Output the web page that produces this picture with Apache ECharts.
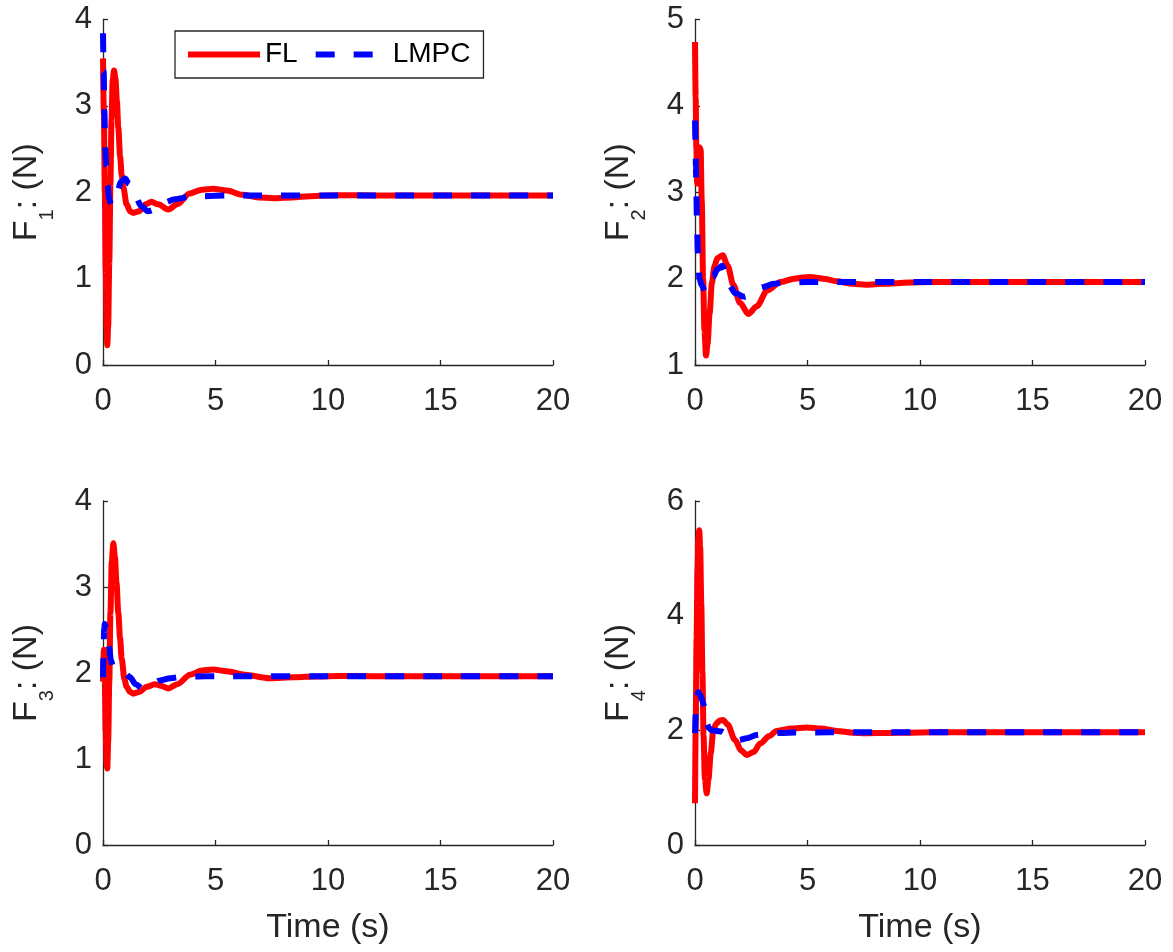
<!DOCTYPE html>
<html>
<head>
<meta charset="utf-8">
<title>Force inputs F1–F4: FL vs LMPC</title>
<script src="https://cdn.jsdelivr.net/npm/echarts@6/dist/echarts.min.js"></script>
<style>
  html, body { margin: 0; padding: 0; background: #fff; }
  #chart { width: 1173px; height: 952px; }
</style>
</head>
<body>
<div id="chart"></div>
<script>
// ---- data: time (s) and force (N) for each rotor input ----
const seriesNames = ['FL', 'LMPC'];

const f1FlT  = [0, 0.04, 0.08, 0.12, 0.16, 0.19, 0.23, 0.28, 0.33, 0.38, 0.43, 0.49, 0.55, 0.62, 0.68, 0.76, 0.83, 0.9, 1.05, 1.2, 1.35, 1.6, 1.9, 2.15, 2.45, 2.9, 3.3, 3.85, 4.4, 4.9, 5.5, 6.2, 6.9, 7.6, 8.4, 9.2, 10.0, 10.8, 12, 14, 17, 20];
const f1FlY  = [3.55, 2.9, 2.0, 1.1, 0.45, 0.23, 0.45, 1.2, 2.1, 2.85, 3.3, 3.41, 3.32, 3.05, 2.75, 2.42, 2.2, 2.06, 1.86, 1.78, 1.76, 1.78, 1.86, 1.89, 1.86, 1.80, 1.86, 1.985, 2.03, 2.04, 2.02, 1.97, 1.94, 1.93, 1.94, 1.955, 1.962, 1.966, 1.963, 1.963, 1.963, 1.963];
const f1MpcT = [0, 0.03, 0.06, 0.1, 0.15, 0.2, 0.27, 0.37, 0.5, 0.65, 0.8, 0.98, 1.15, 1.4, 1.7, 2.0, 2.3, 2.7, 3.2, 3.8, 4.5, 5.5, 7, 10, 15, 20];
const f1MpcY = [3.84, 3.4, 2.95, 2.5, 2.3, 2.08, 1.92, 1.86, 1.9, 2.02, 2.12, 2.16, 2.1, 1.98, 1.84, 1.78, 1.8, 1.88, 1.92, 1.945, 1.955, 1.962, 1.963, 1.963, 1.963, 1.963];

const f2FlT  = [0, 0.03, 0.06, 0.1, 0.15, 0.2, 0.25, 0.3, 0.36, 0.42, 0.49, 0.56, 0.65, 0.75, 0.87, 1.0, 1.23, 1.45, 1.7, 2.0, 2.37, 2.75, 3.2, 3.8, 4.4, 5.1, 5.7, 6.3, 7.0, 7.6, 8.4, 9.5, 10.5, 12, 15, 20];
const f2FlY  = [4.74, 4.1, 3.5, 3.1, 3.3, 3.52, 3.5, 2.9, 2.0, 1.4, 1.11, 1.25, 1.6, 1.95, 2.15, 2.24, 2.27, 2.15, 1.93, 1.72, 1.59, 1.68, 1.86, 1.96, 2.0, 2.02, 2.0, 1.97, 1.94, 1.93, 1.94, 1.955, 1.96, 1.96, 1.96, 1.96];
const f2MpcT = [0, 0.02, 0.04, 0.06, 0.09, 0.13, 0.2, 0.3, 0.45, 0.6, 0.8, 1.0, 1.2, 1.35, 1.5, 1.8, 2.2, 2.6, 3.0, 3.5, 4.0, 5.0, 7, 10, 15, 20];
const f2MpcY = [3.83, 3.6, 3.3, 3.0, 2.6, 2.3, 2.0, 1.92, 1.85, 1.88, 2.02, 2.11, 2.15, 2.08, 1.93, 1.83, 1.79, 1.83, 1.9, 1.94, 1.955, 1.96, 1.96, 1.96, 1.96, 1.96];

const f3FlT  = [0, 0.04, 0.08, 0.12, 0.16, 0.19, 0.23, 0.28, 0.33, 0.39, 0.46, 0.53, 0.6, 0.68, 0.76, 0.83, 0.95, 1.05, 1.2, 1.35, 1.6, 1.95, 2.3, 2.6, 2.9, 3.3, 3.87, 4.4, 4.9, 5.5, 6.3, 7.4, 8.5, 9.5, 10.5, 12, 15, 20];
const f3FlY  = [1.9, 2.27, 1.9, 1.3, 0.95, 0.89, 1.2, 1.9, 2.7, 3.3, 3.51, 3.35, 3.05, 2.7, 2.4, 2.17, 1.93, 1.84, 1.78, 1.76, 1.78, 1.84, 1.87, 1.85, 1.82, 1.87, 1.98, 2.03, 2.04, 2.02, 1.98, 1.94, 1.95, 1.96, 1.965, 1.963, 1.963, 1.963];
const f3MpcT = [0, 0.02, 0.05, 0.08, 0.13, 0.2, 0.27, 0.35, 0.45, 0.6, 0.8, 1.0, 1.2, 1.45, 1.75, 2.1, 2.5, 3.0, 3.5, 4.2, 5, 7, 10, 15, 20];
const f3MpcY = [1.95, 2.2, 2.5, 2.57, 2.52, 2.45, 2.3, 2.15, 2.07, 2.03, 2.0, 1.99, 1.95, 1.87, 1.82, 1.85, 1.91, 1.94, 1.955, 1.96, 1.963, 1.963, 1.963, 1.963, 1.963];

const f4FlT  = [0, 0.03, 0.07, 0.11, 0.15, 0.19, 0.23, 0.28, 0.33, 0.38, 0.44, 0.52, 0.6, 0.7, 0.81, 0.95, 1.1, 1.26, 1.45, 1.78, 2.05, 2.3, 2.6, 2.9, 3.3, 3.63, 4.3, 4.96, 5.6, 6.3, 7.0, 7.6, 8.5, 9.5, 10.5, 12, 15, 20];
const f4FlY  = [0.73, 2.0, 3.6, 4.8, 5.35, 5.49, 5.2, 4.2, 3.0, 1.9, 1.15, 0.9, 1.15, 1.6, 2.0, 2.12, 2.17, 2.18, 2.1, 1.83, 1.65, 1.57, 1.62, 1.77, 1.9, 1.99, 2.03, 2.05, 2.03, 1.99, 1.96, 1.95, 1.955, 1.96, 1.965, 1.965, 1.965, 1.965];
const f4MpcT = [0, 0.03, 0.07, 0.11, 0.15, 0.22, 0.3, 0.37, 0.44, 0.52, 0.62, 0.74, 0.95, 1.19, 1.45, 1.7, 1.95, 2.3, 2.74, 3.2, 3.8, 4.5, 6, 10, 15, 20];
const f4MpcY = [1.95, 2.27, 2.5, 2.64, 2.67, 2.62, 2.55, 2.47, 2.3, 2.12, 2.04, 2.0, 1.99, 1.98, 1.93, 1.87, 1.83, 1.86, 1.92, 1.945, 1.955, 1.963, 1.965, 1.965, 1.965, 1.965];

// axis ranges / ticks
const timeMin = 0, timeMax = 20, timeStep = 5;
const yMins  = [0, 1, 0, 0];
const yMaxs  = [4, 5, 4, 6];
const ySteps = [1, 1, 1, 2];
const ySubscripts = ['1', '2', '3', '4'];
const xTitle = 'Time (s)';

// ---- layout / style ----
const FONT = 'Liberation Sans, Arial, Helvetica, sans-serif';
const INK = '#262626';
const grids = [
  { left: 103, top: 19.5, width: 450, height: 345.5 },
  { left: 695, top: 19.5, width: 450, height: 345.5 },
  { left: 103, top: 501,  width: 450, height: 344 },
  { left: 695, top: 501,  width: 450, height: 344 }
];

const zip = (t, y) => t.map((v, i) => [v, y[i]]);
const panels = [
  [zip(f1FlT, f1FlY), zip(f1MpcT, f1MpcY)],
  [zip(f2FlT, f2FlY), zip(f2MpcT, f2MpcY)],
  [zip(f3FlT, f3FlY), zip(f3MpcT, f3MpcY)],
  [zip(f4FlT, f4FlY), zip(f4MpcT, f4MpcY)]
];

const xAxes = grids.map((g, i) => ({
  type: 'value', gridIndex: i,
  min: timeMin, max: timeMax, interval: timeStep,
  name: i >= 2 ? xTitle : '',
  nameLocation: 'middle', nameGap: 66,
  nameTextStyle: { fontSize: 34, color: INK, fontFamily: FONT },
  axisLine: { show: true, onZero: false, lineStyle: { color: INK, width: 1.3 } },
  axisTick: { show: true, inside: true, length: 5, lineStyle: { color: INK, width: 1.3 } },
  axisLabel: { fontSize: 31, color: INK, fontFamily: FONT, margin: 21 },
  splitLine: { show: false }
}));

const yAxes = grids.map((g, i) => ({
  type: 'value', gridIndex: i,
  min: yMins[i], max: yMaxs[i], interval: ySteps[i],
  name: '{m|F}{s|' + ySubscripts[i] + '}{m|: (N)}',
  nameLocation: 'middle', nameGap: 46, nameRotate: 90,
  nameTextStyle: {
    color: INK, fontFamily: FONT,
    rich: {
      m: { fontSize: 34, color: INK, fontFamily: FONT, verticalAlign: 'bottom', padding: [0, 0, 13, 0] },
      s: { fontSize: 20, color: INK, fontFamily: FONT, verticalAlign: 'bottom' }
    }
  },
  axisLine: { show: true, lineStyle: { color: INK, width: 1.3 } },
  axisTick: { show: true, inside: true, length: 5, lineStyle: { color: INK, width: 1.3 } },
  axisLabel: { fontSize: 31, color: INK, fontFamily: FONT, margin: 11 },
  splitLine: { show: false }
}));

const series = [];
panels.forEach((p, i) => {
  series.push({
    name: seriesNames[0], type: 'line', xAxisIndex: i, yAxisIndex: i,
    data: p[0], symbol: 'none', smooth: 0.3, smoothMonotone: 'x', clip: false,
    lineStyle: { color: '#ff0000', width: 6, cap: 'butt' },
    itemStyle: { color: '#ff0000' }, z: 2
  });
  series.push({
    name: seriesNames[1], type: 'line', xAxisIndex: i, yAxisIndex: i,
    data: p[1], symbol: 'none', smooth: 0.3, smoothMonotone: 'x', clip: false,
    lineStyle: { color: '#0000ff', width: 6, type: [19, 19], cap: 'butt' },
    itemStyle: { color: '#0000ff' }, z: 3
  });
});

const chart = echarts.init(document.getElementById('chart'), null, { renderer: 'canvas' });
chart.setOption({
  animation: false,
  backgroundColor: '#ffffff',
  grid: grids,
  xAxis: xAxes,
  yAxis: yAxes,
  legend: {
    data: seriesNames,
    left: 175, top: 31,
    orient: 'horizontal',
    itemWidth: 72, itemHeight: 14, itemGap: 15,
    padding: [9, 13, 9, 10],
    borderColor: INK, borderWidth: 1.3,
    backgroundColor: '#ffffff',
    lineStyle: { width: 6 },
    itemStyle: { opacity: 0 },
    textStyle: { fontSize: 28, color: '#000', fontFamily: FONT, lineHeight: 29 }
  },
  series: series
});
</script>
</body>
</html>
